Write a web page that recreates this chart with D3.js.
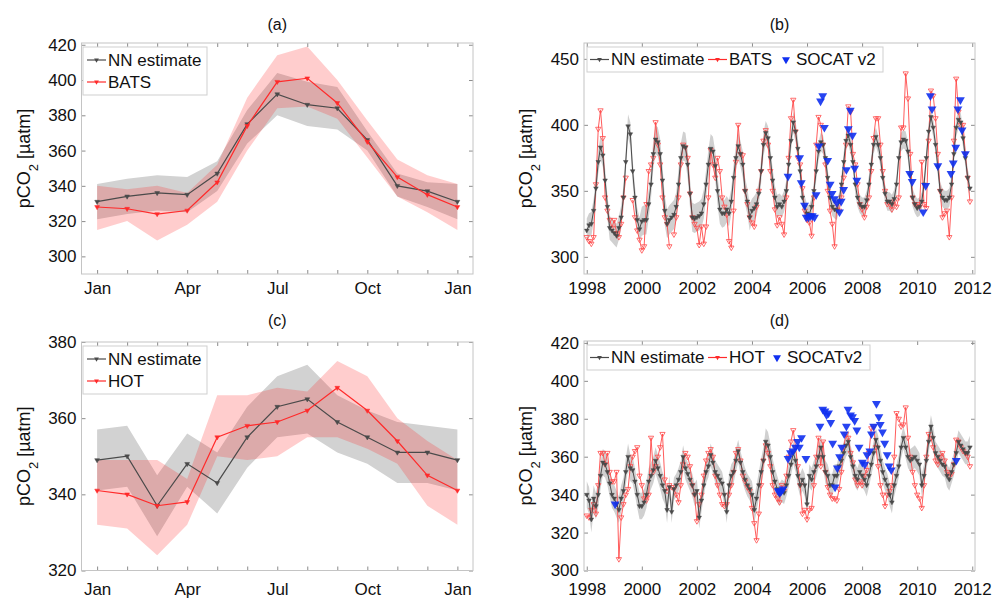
<!DOCTYPE html>
<meta charset="utf-8">
<style>
body { margin: 0; background: #fff; }
text { font-family: "Liberation Sans", Arial, Helvetica, sans-serif; fill: #111; }
.axis text { font-size: 17px; }
.axis line { stroke: #8c8c8c; }
.axis path { display: none; }
.legend text { font-size: 17px; }
.title { font-size: 16px; text-anchor: middle; }
.ylab { font-size: 18px; text-anchor: middle; }
</style>
<body>
<svg width="995" height="599"></svg>
<script src="https://d3js.org/d3.v7.min.js"></script>
<script>
// ---------- data ----------
var monthLabels = ["Jan", "Apr", "Jul", "Oct", "Jan"];

// (a) BATS monthly climatology, Jan..Jan
var nnA       = [331, 334, 336, 335, 347, 375, 392, 386, 384, 366, 340, 337, 331];
var nnALow    = [321, 324, 326, 325, 337, 364, 380, 374, 372, 360, 334, 328, 321];
var nnAHigh   = [341, 344, 346, 345, 354, 383, 404, 399, 396, 371, 347, 342, 341];
var batsA     = [328, 327, 324, 326, 342, 374, 399, 401, 387, 365, 345, 335, 328];
var batsALow  = [315, 320, 309, 318, 331, 360, 384, 385, 378, 356, 334, 325, 315];
var batsAHigh = [340, 338, 340, 336, 352, 390, 414, 419, 400, 377, 355, 346, 341];

// (c) HOT monthly climatology, Jan..Jan
var nnC      = [349, 350, 337, 348, 343, 355, 363, 365, 359, 355, 351, 351, 349];
var nnCLow   = [341, 342, 329, 342, 335, 347, 355, 356, 351, 348, 343, 343, 341];
var nnCHigh  = [357, 358, 345, 356, 351, 363, 371, 374, 366, 362, 359, 358, 357];
var hotC     = [341, 340, 337, 338, 355, 358, 359, 362, 368, 362, 354, 345, 341];
var hotCLow  = [332, 331, 324, 332, 350, 349, 350, 355, 355, 352, 348, 337, 332];
var hotCHigh = [349, 349, 349, 344, 366, 366, 368, 367, 375, 371, 360, 354, 349];

// (b), (d) monthly series, Jan 1998 .. Dec 2011
var years = [1998, 1999, 2000, 2001, 2002, 2003, 2004, 2005, 2006, 2007, 2008, 2009, 2010, 2011];

var nnB = [
  320, 324, 325, 335, 352, 372, 383, 377, 358, 338, 322, 320,
  318, 316, 322, 330, 345, 372, 399, 393, 365, 345, 328, 321,
  327, 328, 328, 340, 355, 378, 389, 387, 378, 358, 335, 325,
  328, 330, 332, 338, 355, 375, 384, 383, 370, 348, 330, 329,
  330, 331, 333, 340, 355, 370, 382, 380, 369, 350, 336, 333,
  333, 336, 333, 342, 360, 375, 384, 378, 370, 350, 342, 330,
  335, 337, 340, 348, 365, 385, 394, 390, 375, 358, 345, 338,
  340, 338, 342, 350, 370, 388, 402, 395, 382, 365, 345, 338,
  333, 332, 338, 350, 365, 380, 387, 385, 375, 360, 345, 338,
  336, 335, 342, 355, 372, 388, 392, 385, 372, 355, 345, 340,
  338, 338, 343, 355, 370, 385, 391, 385, 375, 360, 348, 342,
  342, 340, 344, 355, 375, 387, 389, 388, 380, 362, 345, 340,
  337, 338, 342, 355, 375, 395, 406, 398, 385, 368, 350, 345,
  343, 343, 345, 355, 378, 398, 404, 402, 390, 375, 360, 352
];
var nnBSpread = [9, 9, 11, 11, 11, 10, 9, 8, 7, 7, 7, 7, 7, 7];

var batsB = [
  315, 312, 310, 315, 355, 397, 411, 390, 345, 335, 328, 322,
  328, 318, 315, 325, 345, 360, null, null, 343, 330, 320, 313,
  305, 308, 340, 365, 370, 375, 402, 385, 370, 345, 330, 325,
  308, null, 317, 330, 345, 370, 385, 383, 375, 348, 330, 325,
  322, 309, 323, 310, 323, 345, 381, 370, 360, 375, 365, 345,
  338, 332, 312, 307, 335, 372, 400, 378, 377, 350, 340, 330,
  326, 323, 338, 350, 365, 388, 396, 385, 365, 350, 336, 324,
  330, 325, 317, 345, 375, 405, 419, 395, 375, 370, 352, 335,
  328, 326, 316, 345, 385, 406, 400, 385, 370, 350, 335, 325,
  308, 340, 335, 345, 360, 385, 414, 410, 378, 370, 355, 340,
  336, 330, 338, 345, 365, 390, 405, 405, 385, 365, 350, 340,
  340, 336, 342, 338, 345, 398, 398, 439, 420, 378, 345, 340,
  340, 338, 372, 340, 337, 388, 426, 422, 405, 378, 350, 330,
  333, 335, 315, 345, 388, 435, 410, 400, 400, 378, 360, 342
];

var socatBTime = [2005.31, 2005.73, 2005.79, 2005.91, 2005.97, 2006.05, 2006.12, 2006.19, 2006.27, 2006.33,
  2006.43, 2006.49, 2006.57, 2006.63, 2006.75, 2006.84, 2006.91, 2006.99, 2007.08, 2007.18, 2007.24,
  2007.33, 2007.43, 2007.50, 2007.57, 2007.65, 2007.73, 2007.81, 2009.73, 2009.82, 2010.22, 2010.31,
  2010.48, 2010.54, 2010.75, 2011.23, 2011.31, 2011.40, 2011.48, 2011.57, 2011.63, 2011.75];
var socatBVal = [361, 375, 356, 339, 330, 330, 331, 331, 330, 347,
  384, 418, 422, 398, 373, 355, 348, 344, 341, 334, 342,
  351, 366, 397, 411, 392, 367, 358, 363, 357, 334, 354,
  422, 412, 369, 363, 371, 383, 412, 419, 396, 378];

var nnD = [
  340, 337, 327, 338, 334, 340, 350, 357, 356, 352, 346, 340,
  338, 335, 332, 338, 342, 352, 360, 354, 353, 347, 340, 334,
  334, 336, 340, 347, 350, 353, 358, 354, 350, 345, 342, 332,
  344, 331, 343, 345, 348, 352, 360, 354, 351, 348, 345, 340,
  342, 328, 337, 345, 352, 355, 361, 357, 352, 350, 348, 346,
  340, 331, 345, 350, 352, 358, 363, 357, 352, 348, 345, 343,
  340, 332, 338, 345, 352, 358, 368, 366, 360, 352, 347, 343,
  340, 342, 341, 345, 350, 356, 362, 358, 350, 345, 348, 345,
  335, 350, 348, 352, 355, 360, 365, 360, 352, 350, 345, 345,
  350, 350, 355, 358, 362, 366, 368, 360, 355, 350, 348, 352,
  350, 348, 345, 350, 356, 362, 369, 365, 358, 352, 348, 345,
  340, 336, 345, 350, 355, 365, 370, 365, 360, 358, 359, 360,
  358, 356, 345, 350, 358, 368, 376, 370, 362, 360, 358, 356,
  355, 350, 348, 352, 356, 362, 368, 366, 364, 362, 362, 365
];
var nnDSpread = [7, 7, 7, 6, 6, 6, 7, 6, 6, 6, 6, 6, 6, 6];

var hotD = [
  329, 328, 332, 335, 330, 345, 362, 362, 356, 362, 352, 347,
  347, 352, 306, 328, 335, 340, 343, 355, 360, 363, 365, 350,
  345, 338, 337, 340, 370, 352, 355, 360, 365, 372, 348, 342,
  345, 344, 343, 340, 336, 345, 356, 362, 360, 355, 345, 340,
  326, 335, 340, 350, 358, 362, 364, 360, 350, 345, 340, 335,
  334, 335, 340, 345, 352, 362, 364, 358, 350, 347, 344, 342,
  333, 325, 316, 330, 345, 358, 366, 362, 355, 345, 340, 338,
  336, 345, 342, 350, 360, 368, 374, 365, 355, 345, 330, 332,
  327, 332, 333, 345, 360, 370, 355, 368, 352, 344, 340, 338,
  338, 337, 343, 352, 365, 372, 370, 362, 357, 348, 345, 347,
  345, 350, 353, 362, 375, 376, 365, 355, 345, 340, 334, 340,
  342, 345, 360, 383, 380, 376, 377, 386, 370, 360, 352, 345,
  340, 338, 333, 345, 360, 372, 370, 365, 358, 356, 360, 362,
  358, 352, 350, 351, 356, 369, 368, 365, 363, 362, 360, 355
];

var socatDTime = [1999.03, 2004.95, 2005.01, 2005.07, 2005.13, 2005.31, 2005.40, 2005.49, 2005.58, 2005.66,
  2005.72, 2005.80, 2005.96, 2006.47, 2006.57, 2006.65, 2006.71, 2006.78, 2006.86, 2006.93, 2007.02,
  2007.10, 2007.18, 2007.26, 2007.35, 2007.43, 2007.49, 2007.58, 2007.65, 2007.73, 2007.81, 2007.89,
  2008.01, 2008.10, 2008.18, 2008.28, 2008.34, 2008.42, 2008.52, 2008.61, 2008.66, 2008.74, 2008.82,
  2008.91, 2008.98, 2009.06, 2011.42];
var socatDVal = [335, 342, 341, 342, 343, 359, 362, 363, 365, 368,
  365, 370, 359, 376, 385, 384, 382, 383, 378, 367, 344,
  354, 360, 365, 372, 376, 385, 382, 381, 379, 374, 365,
  357, 356, 361, 363, 372, 376, 388, 381, 377, 373, 367,
  361, 355, 353, 358];

// ---------- drawing ----------
var svg = d3.select("svg");
var GRAY = "#4a4a4a", RED = "#ff2a2a", BLUE = "#1030f0";

function frame(box, x, y, xVals, xFmt, yVals, xPad) {
  svg.append("g").attr("class", "axis").attr("transform", "translate(0," + box.b + ")")
    .call(d3.axisBottom(x).tickValues(xVals).tickFormat(xFmt).tickSize(-4).tickPadding(xPad));
  svg.append("g").attr("class", "axis").attr("transform", "translate(0," + box.t + ")")
    .call(d3.axisTop(x).tickValues(xVals).tickFormat("").tickSize(-4));
  svg.append("g").attr("class", "axis").attr("transform", "translate(" + box.l + ",0)")
    .call(d3.axisLeft(y).tickValues(yVals).tickSize(-4).tickPadding(5));
  svg.append("g").attr("class", "axis").attr("transform", "translate(" + box.r + ",0)")
    .call(d3.axisRight(y).tickValues(yVals).tickFormat("").tickSize(-4));
  svg.append("rect").attr("x", box.l).attr("y", box.t)
    .attr("width", box.r - box.l).attr("height", box.b - box.t)
    .attr("fill", "none").attr("stroke", "#c4c4c4");
}

function labels(box, title, titleY) {
  svg.append("text").attr("class", "title")
    .attr("x", (box.l + box.r) / 2).attr("y", titleY).text(title);
  var t = svg.append("text").attr("class", "ylab")
    .attr("transform", "translate(" + (box.l - 52) + "," + ((box.t + box.b) / 2) + ") rotate(-90)");
  t.append("tspan").text("pCO");
  t.append("tspan").attr("baseline-shift", "sub").attr("font-size", "13px").text("2");
  t.append("tspan").text(" [\u00b5atm]");
}

function band(data, x, y, lo, hi, fill, op) {
  svg.append("path").datum(data)
    .attr("fill", fill).attr("fill-opacity", op)
    .attr("d", d3.area().x(function(d) { return x(d.t); })
      .y0(function(d) { return y(lo(d)); }).y1(function(d) { return y(hi(d)); }));
}

function series(data, x, y, color, width, mSize, open) {
  svg.append("path").datum(data)
    .attr("fill", "none").attr("stroke", color).attr("stroke-width", width)
    .attr("d", d3.line().defined(function(d) { return d.v != null; })
      .x(function(d) { return x(d.t); }).y(function(d) { return y(d.v); }));
  svg.append("g").selectAll("path")
    .data(data.filter(function(d) { return d.v != null; }))
    .join("path")
    .attr("transform", function(d) { return "translate(" + x(d.t) + "," + y(d.v) + ") rotate(180)"; })
    .attr("d", d3.symbol(d3.symbolTriangle, mSize))
    .attr("fill", open ? "none" : color).attr("stroke", color).attr("stroke-width", open ? 0.8 : 0.5);
}

function legend(x0, y0, w, h, items, rowH, horizontal) {
  var g = svg.append("g").attr("class", "legend");
  g.append("rect").attr("x", x0).attr("y", y0).attr("width", w).attr("height", h)
    .attr("fill", "#fff").attr("stroke", "#cfcfcf");
  items.forEach(function(it, i) {
    var lx = horizontal ? it.x : x0 + 4, ly = horizontal ? y0 + h / 2 : y0 + 13 + i * rowH;
    if (it.line) {
      g.append("line").attr("x1", lx).attr("x2", lx + 19).attr("y1", ly).attr("y2", ly)
        .attr("stroke", it.color).attr("stroke-width", 1.2);
    }
    g.append("path").attr("transform", "translate(" + (lx + (it.line ? 9.5 : 2)) + "," + ly + ") rotate(180)")
      .attr("d", d3.symbol(d3.symbolTriangle, it.line ? 10 : 28)).attr("fill", it.color);
    g.append("text").attr("x", lx + (it.line ? 21 : 12)).attr("y", ly).attr("dy", "0.35em").text(it.label);
  });
}

function clim(vals) { return vals.map(function(v, i) { return { t: i, v: v, i: i }; }); }
function monthly(vals) {
  return vals.map(function(v, i) { return { t: years[Math.floor(i / 12)] + (i % 12) / 12, v: v, i: i }; });
}

// --- climatology panels (a), (c)
function climPanel(box, yDom, yVals, nn, nnLo, nnHi, obs, obsLo, obsHi, obsName, title, titleY, xPad) {
  var x = d3.scaleLinear().domain([-0.52, 12.52]).range([box.l, box.r]);
  var y = d3.scaleLinear().domain(yDom).range([box.b, box.t]);
  var nnS = clim(nn), obsS = clim(obs);
  band(nnS, x, y, function(d) { return nnLo[d.i]; }, function(d) { return nnHi[d.i]; }, "#d2d2d2", 1);
  band(obsS, x, y, function(d) { return obsLo[d.i]; }, function(d) { return obsHi[d.i]; }, "#ff1a1a", 0.22);
  frame(box, x, y, d3.range(13), function(d) { return d % 3 === 0 ? monthLabels[d / 3] : ""; }, yVals, xPad);
  series(nnS, x, y, GRAY, 1.2, 10, false);
  series(obsS, x, y, RED, 1.2, 10, false);
  labels(box, title, titleY);
  legend(box.l + 1.5, box.t + 4, 124, 48, [
    { label: "NN estimate", color: GRAY, line: true },
    { label: obsName, color: RED, line: true }
  ], 22, false);
}

climPanel({ l: 81.5, r: 473, t: 43, b: 274 }, [290, 421], [300, 320, 340, 360, 380, 400, 420],
  nnA, nnALow, nnAHigh, batsA, batsALow, batsAHigh, "BATS", "(a)", 30, 8);
climPanel({ l: 81.5, r: 473, t: 342, b: 570.5 }, [320, 380], [320, 340, 360, 380],
  nnC, nnCLow, nnCHigh, hotC, hotCLow, hotCHigh, "HOT", "(c)", 326, 12);

// --- time series panels (b), (d)
function tsPanel(box, yDom, yVals, nn, spread, obs, sT, sV, obsName, socName, title, titleY, legItems, xPad) {
  var x = d3.scaleLinear().domain([1997.9, 2012.1]).range([box.l, box.r]);
  var y = d3.scaleLinear().domain(yDom).range([box.b, box.t]);
  var nnS = monthly(nn), obsS = monthly(obs);
  band(nnS, x, y, function(d) { return d.v - spread[Math.floor(d.i / 12)]; },
    function(d) { return d.v + spread[Math.floor(d.i / 12)]; }, "#d0d0d0", 1);
  frame(box, x, y, [1998, 2000, 2002, 2004, 2006, 2008, 2010, 2012], d3.format("d"), yVals, xPad);
  series(obsS, x, y, "#ff4a4a", 0.9, 12, true);
  series(nnS, x, y, GRAY, 1, 9, false);
  svg.append("g").selectAll("path").data(sT).join("path")
    .attr("transform", function(d, i) { return "translate(" + x(d) + "," + y(sV[i]) + ") rotate(180)"; })
    .attr("d", d3.symbol(d3.symbolTriangle, 34))
    .attr("fill", BLUE).attr("fill-opacity", 0.9);
  labels(box, title, titleY);
  legend(box.l + 3, box.t + 4, legItems.w, 25, [
    { label: "NN estimate", color: GRAY, line: true, x: box.l + 6 },
    { label: obsName, color: RED, line: true, x: legItems.x2 },
    { label: socName, color: BLUE, line: false, x: legItems.x3 }
  ], 0, true);
}

tsPanel({ l: 584, r: 975, t: 43, b: 274 }, [287, 462], [300, 350, 400, 450],
  nnB, nnBSpread, batsB, socatBTime, socatBVal, "BATS", "SOCAT v2", "(b)", 30,
  { w: 296, x2: 708, x3: 784 }, 8);
tsPanel({ l: 584, r: 975, t: 341, b: 570.5 }, [300, 421], [300, 320, 340, 360, 380, 400, 420],
  nnD, nnDSpread, hotD, socatDTime, socatDVal, "HOT", "SOCATv2", "(d)", 326,
  { w: 283, x2: 708, x3: 775 }, 12);
</script>
</body>
